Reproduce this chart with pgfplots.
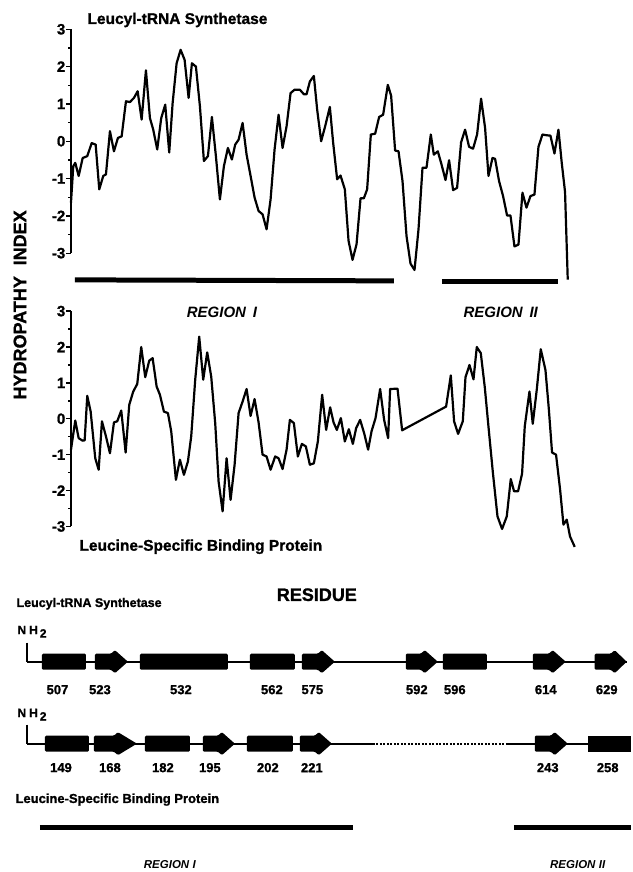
\documentclass[border=0pt]{standalone}
\usepackage{pgfplots}
\pgfplotsset{compat=1.18}
\usepackage{fontspec}
\setmainfont{Liberation Sans}[BoldFeatures={FakeBold=1.2}]
\newcommand\fs[1]{\fontsize{#1}{#1}\selectfont\bfseries}
\pgfplotsset{
  hydro/.style={
    anchor=south west, scale only axis, width=500pt,
    xmin=71, xmax=571, ymin=-3, ymax=3, clip=false,
    axis x line=none, axis y line=left,
    y axis line style={-, line width=1.5pt},
    ytick={-3,-2,-1,0,1,2,3},
    yticklabels={-3,-2,-1,0,1,2,3},
    minor y tick num=1,
    tick align=outside,
    major tick length=4.5pt, minor tick length=2.5pt,
    every tick/.style={black, line width=1.3pt},
    yticklabel style={font=\fs{15}, inner xsep=1pt},
  },
  curve/.style={black, line width=2.2pt, line join=round, mark=none},
  blk/.style={fill=black, draw=none, rounded corners=1.2pt},
}
\begin{document}
\begin{tikzpicture}
% ---------- canvas in image pixel coordinates ----------
\begin{axis}[at={(0pt,0pt)}, anchor=south west, scale only axis,
  width=631pt, height=872pt, xmin=0, xmax=631, ymin=0, ymax=872,
  y dir=reverse, axis lines=none, clip=false]
\addplot[draw=none] coordinates {(0,0) (631,872)};
% titles and labels
\node[anchor=west, font=\fs{15.5}] at (axis cs:84,20) {Leucyl-tRNA Synthetase};
\node[font=\fs{15}\itshape] at (axis cs:222,312) {REGION\hspace{0.45em}I};
\node[font=\fs{15}\itshape] at (axis cs:501,312) {REGION\hspace{0.45em}II};
\node[anchor=west, font=\fs{15.5}] at (axis cs:76,547) {Leucine-Specific Binding Protein};
\node[rotate=90, font=\fs{18}] at (axis cs:20,305) {HYDROPATHY\hspace{0.6em}INDEX};
\node[font=\fs{18}] at (axis cs:317,595) {RESIDUE};
% region bars under the upper plot
\addplot[black, line width=5pt] coordinates {(75,280) (394,281)};
\addplot[black, line width=5pt] coordinates {(442,282) (558,282)};
% ---------- schematic, row 1 ----------
\node[anchor=west, font=\fs{12.5}] at (axis cs:13,604) {Leucyl-tRNA Synthetase};
\node[anchor=west, font=\fs{12}] at (axis cs:14,632) {N\hspace{3pt}H\hspace{2pt}\raisebox{-3.5pt}{2}};
\addplot[black, line width=1.2pt] coordinates {(27,643) (27,662) (40,662)};
\addplot[black, line width=2pt] coordinates {(27,662) (627,662)};
\addplot[blk] coordinates {(42,654) (86,654) (86,670) (42,670)} -- cycle;
\addplot[blk] coordinates {(95,654) (111,654) (115,650.5) (128,662) (115,673.5) (111,670) (95,670)} -- cycle;
\addplot[blk] coordinates {(140,654) (228,654) (228,670) (140,670)} -- cycle;
\addplot[blk] coordinates {(250,654) (295,654) (295,670) (250,670)} -- cycle;
\addplot[blk] coordinates {(302,654) (318,654) (322,650.5) (335,662) (322,673.5) (318,670) (302,670)} -- cycle;
\addplot[blk] coordinates {(406,654) (421,654) (425,650.5) (438,662) (425,673.5) (421,670) (406,670)} -- cycle;
\addplot[blk] coordinates {(443,654) (487,654) (487,670) (443,670)} -- cycle;
\addplot[blk] coordinates {(533,654) (549,654) (553,650.5) (566,662) (553,673.5) (549,670) (533,670)} -- cycle;
\addplot[blk] coordinates {(595,654) (611,654) (615,650.5) (627,662) (615,673.5) (611,670) (595,670)} -- cycle;
\foreach \n/\x in {507/57.5, 523/100, 532/181, 562/272, 575/312.5, 592/417, 596/455, 614/546, 629/607}{
  \edef\temp{\noexpand\node[font=\noexpand\fs{13}] at (axis cs:\x,690) {\n};}\temp
}
% ---------- schematic, row 2 ----------
\node[anchor=west, font=\fs{12}] at (axis cs:14,715) {N\hspace{3pt}H\hspace{2pt}\raisebox{-3.5pt}{2}};
\addplot[black, line width=1.2pt] coordinates {(27,725) (27,744) (40,744)};
\addplot[black, line width=2pt] coordinates {(27,744) (373,744)};
\addplot[black, line width=2pt, dash pattern=on 2pt off 1.5pt] coordinates {(373,744) (507,744)};
\addplot[black, line width=2pt] coordinates {(507,744) (600,744)};
\addplot[blk] coordinates {(45,736) (89,736) (89,752) (45,752)} -- cycle;
\addplot[blk] coordinates {(94,736) (114,736) (118,732.5) (137,744) (118,755.5) (114,752) (94,752)} -- cycle;
\addplot[blk] coordinates {(145,736) (190,736) (190,752) (145,752)} -- cycle;
\addplot[blk] coordinates {(203,736) (218,736) (222,732.5) (235,744) (222,755.5) (218,752) (203,752)} -- cycle;
\addplot[blk] coordinates {(247,736) (293,736) (293,752) (247,752)} -- cycle;
\addplot[blk] coordinates {(300,736) (315,736) (319,732.5) (332,744) (319,755.5) (315,752) (300,752)} -- cycle;
\addplot[blk] coordinates {(535,736) (551,736) (555,732.5) (568,744) (555,755.5) (551,752) (535,752)} -- cycle;
\addplot[fill=black, draw=none] coordinates {(588,736) (631,736) (631,752) (588,752)} -- cycle;
\foreach \n/\x in {149/61, 168/110, 182/163, 195/210, 202/268, 221/312, 243/548, 258/608}{
  \edef\temp{\noexpand\node[font=\noexpand\fs{13}] at (axis cs:\x,768) {\n};}\temp
}
\node[anchor=west, font=\fs{13}] at (axis cs:12,800) {Leucine-Specific Binding Protein};
\addplot[black, line width=4.5pt] coordinates {(40,828) (353,828)};
\addplot[black, line width=4.5pt] coordinates {(514,828) (631,828)};
\node[font=\fs{11.5}\itshape] at (axis cs:170,865) {REGION\hspace{0.3em}I};
\node[font=\fs{11.5}\itshape] at (axis cs:578,865) {REGION\hspace{0.3em}II};
\end{axis}

% ---------- upper hydropathy plot ----------
\begin{axis}[hydro, at={(71pt,618.7pt)}, height=224pt]
\addplot[curve] coordinates {
(71.0,-1.65) (73.3,-0.67) (75.3,-0.58) (78.7,-0.93) (82.7,-0.45) (87.3,-0.40)
(91.7,-0.05) (95.7,-0.09) (99.3,-1.29) (103.3,-0.93) (106.0,-0.89) (110.0,0.27)
(114.0,-0.27) (118.0,0.09) (121.7,0.13) (126.0,1.07) (130.0,1.05) (134.0,1.16)
(137.7,1.34) (141.7,0.58) (146.0,1.90) (150.0,0.62) (153.3,0.31) (157.3,-0.22)
(161.3,0.62) (165.3,0.98) (169.3,-0.30) (172.7,1.02) (176.7,2.09) (180.7,2.45)
(184.7,2.18) (188.7,1.16) (192.0,2.09) (196.0,2.00) (200.0,0.94) (204.0,-0.53)
(208.0,-0.40) (212.0,0.65) (216.0,-0.40) (220.0,-1.56) (224.0,-0.67) (228.0,-0.18)
(232.0,-0.49) (235.3,-0.09) (238.7,0.04) (242.7,0.49) (246.7,-0.36) (250.7,-0.93)
(254.7,-1.51) (258.7,-1.87) (262.7,-1.96) (266.7,-2.36) (270.7,-1.56) (274.7,-0.22)
(278.7,0.71) (282.7,-0.18) (286.7,0.40) (290.7,1.29) (294.7,1.38) (300.0,1.38)
(304.0,1.26) (306.7,1.26) (310.0,1.60) (314.0,1.75) (317.3,0.85) (321.3,0.00)
(325.3,0.40) (330.0,0.92) (333.3,-0.04) (337.3,-1.02) (340.7,-0.92) (345.0,-1.29)
(348.7,-2.67) (352.7,-3.18) (356.7,-2.76) (360.7,-1.53) (364.0,-1.53) (367.3,-1.29)
(371.0,0.18) (375.3,0.20) (379.3,0.65) (383.3,0.71) (388.0,1.51) (391.3,1.22)
(395.3,-0.25) (398.7,-0.27) (402.7,-1.07) (406.7,-2.54) (410.7,-3.28) (414.7,-3.45)
(418.7,-2.36) (422.7,-0.71) (426.7,-0.71) (431.0,0.18) (434.0,-0.36) (438.0,-0.27)
(441.7,-0.62) (445.7,-1.04) (449.3,-0.51) (453.3,-1.31) (457.3,-1.25) (461.3,-0.03)
(465.3,0.31) (469.3,-0.15) (473.3,-0.20) (477.3,0.18) (481.3,1.14) (485.3,0.36)
(488.7,-0.93) (492.7,-0.45) (495.3,-0.47) (499.3,-1.07) (503.3,-1.47) (507.3,-1.99)
(510.7,-1.99) (514.7,-2.82) (518.7,-2.77) (522.7,-1.38) (526.7,-1.78) (530.7,-1.47)
(534.7,-1.43) (538.7,-0.15) (542.7,0.18) (546.7,0.16) (550.7,0.15) (554.7,-0.33)
(558.7,0.31) (562.0,-0.58) (565.3,-1.36) (568.0,-3.71)
};
\end{axis}

% ---------- lower hydropathy plot ----------
\begin{axis}[hydro, at={(71pt,345.3pt)}, height=215.4pt]
\addplot[curve] coordinates {
(71.0,-0.86) (75.3,-0.05) (78.7,-0.54) (82.7,-0.61) (84.7,-0.60) (87.3,0.64)
(90.7,0.20) (95.3,-1.10) (98.7,-1.42) (102.0,-0.07) (106.0,-0.49) (110.0,-0.96)
(114.0,-0.10) (117.3,-0.07) (121.3,0.23) (125.7,-0.94) (129.3,0.39) (133.3,0.76)
(137.3,0.97) (141.3,2.00) (145.3,1.16) (149.3,1.62) (152.7,1.69) (156.7,0.90)
(160.0,0.67) (164.0,0.20) (168.0,0.16) (171.3,-0.35) (176.0,-1.70) (180.0,-1.14)
(184.0,-1.56) (188.0,-1.19) (191.3,-0.49) (195.3,1.09) (199.3,2.29) (203.3,1.09)
(207.3,1.85) (211.3,1.18) (215.3,-0.12) (218.7,-1.75) (222.7,-2.58) (226.7,-1.10)
(230.7,-2.26) (234.7,-1.28) (238.7,0.16) (242.7,0.48) (246.7,0.83) (250.7,0.08)
(254.7,0.55) (258.7,-0.10) (262.7,-1.00) (266.7,-1.05) (270.7,-1.42) (275.3,-1.05)
(278.7,-1.10) (282.7,-1.40) (286.7,-0.86) (290.0,-0.03) (294.0,-0.12) (298.0,-1.05)
(302.0,-0.70) (306.0,-0.77) (310.0,-1.28) (314.0,-1.24) (318.0,-0.63) (322.3,0.67)
(326.3,-0.31) (330.3,0.32) (333.7,-0.10) (337.0,-0.31) (341.0,0.02) (345.0,-0.63)
(349.0,-0.29) (353.0,-0.70) (356.3,-0.26) (360.3,-0.03) (364.3,-0.40) (368.3,-0.86)
(371.7,-0.35) (375.7,0.02) (380.3,0.83) (384.3,-0.03) (388.3,-0.54) (390.3,0.83)
(397.7,0.84) (402.3,-0.32) (446.3,0.34) (451.0,1.21) (454.3,-0.07) (458.3,-0.42)
(463.0,-0.07) (465.7,1.16) (469.7,1.50) (473.7,1.10) (477.0,2.00) (481.0,1.83)
(485.0,0.88) (489.0,-0.31) (493.0,-1.47) (497.7,-2.72) (502.3,-3.07) (507.0,-2.72)
(511.0,-1.68) (514.3,-2.02) (518.3,-2.02) (522.3,-1.53) (525.0,-0.21) (529.7,0.76)
(533.0,-0.14) (537.0,0.81) (541.0,1.94) (545.7,1.36) (549.0,0.30) (552.3,-0.94)
(556.3,-1.00) (560.3,-1.96) (563.7,-2.95) (567.0,-2.81) (570.3,-3.28) (575.0,-3.57)
};
\end{axis}
\end{tikzpicture}
\end{document}
